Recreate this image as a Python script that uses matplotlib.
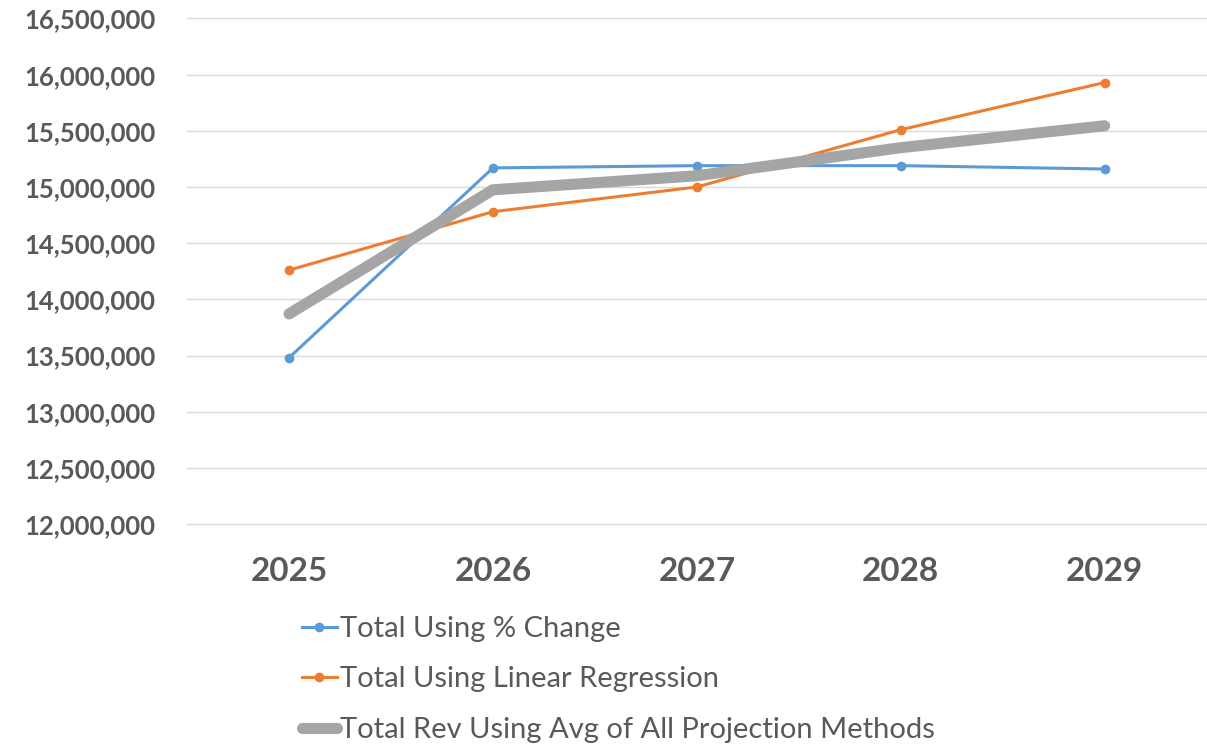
import matplotlib
matplotlib.use('Agg')
import matplotlib.pyplot as plt
from matplotlib.ticker import FuncFormatter, MultipleLocator

# Revenue projections by year
years = ['2025', '2026', '2027', '2028', '2029']
pct_change = [13480000, 15170000, 15190000, 15190000, 15160000]
linear_reg = [14260000, 14780000, 15000000, 15510000, 15930000]
avg_methods = [13870000, 14975000, 15100000, 15350000, 15545000]

labels = ['Total Using % Change',
          'Total Using Linear Regression',
          'Total Rev Using Avg of All Projection Methods']

blue = '#5B9BD5'
orange = '#ED7D31'
gray = '#A5A5A5'
text_col = '#595959'

plt.rcParams['font.family'] = ['Lato', 'DejaVu Sans']

fig = plt.figure(figsize=(12.07, 7.45), dpi=100)
ax = fig.add_axes([0.155, 0.2966, 0.8447, 0.6786])

x = list(range(len(years)))
ax.plot(x, pct_change, color=blue, lw=2.2, marker='o', ms=6,
        label=labels[0], zorder=3)
ax.plot(x, linear_reg, color=orange, lw=2.2, marker='o', ms=6,
        label=labels[1], zorder=3)
ax.plot(x, avg_methods, color=gray, lw=8, solid_capstyle='round',
        label=labels[2], zorder=4)

ax.set_xlim(-0.5, len(years) - 0.5)
ax.set_ylim(12000000, 16500000)
ax.yaxis.set_major_locator(MultipleLocator(500000))
ax.yaxis.set_major_formatter(FuncFormatter(lambda v, p: f'{v:,.0f}'))
ax.set_xticks(x)
ax.set_xticklabels(years)

ax.grid(axis='y', color='#D9D9D9', lw=1)
for gl in ax.get_ygridlines():
    gl.set_clip_on(False)
ax.set_axisbelow(True)
for s in ax.spines.values():
    s.set_visible(False)
ax.tick_params(axis='both', length=0, colors=text_col)
ax.tick_params(axis='y', pad=23, labelsize=18.5)
ax.tick_params(axis='x', pad=24, labelsize=24)
for t in ax.get_yticklabels() + ax.get_xticklabels():
    t.set_fontweight('bold')

leg = fig.legend(loc='upper left', bbox_to_anchor=(0.238, 0.193),
                 frameon=False, fontsize=21, handlelength=1.2,
                 handletextpad=0.1, labelspacing=0.84, borderpad=0)
for t in leg.get_texts():
    t.set_color(text_col)

plt.savefig('out.png', dpi=100)
